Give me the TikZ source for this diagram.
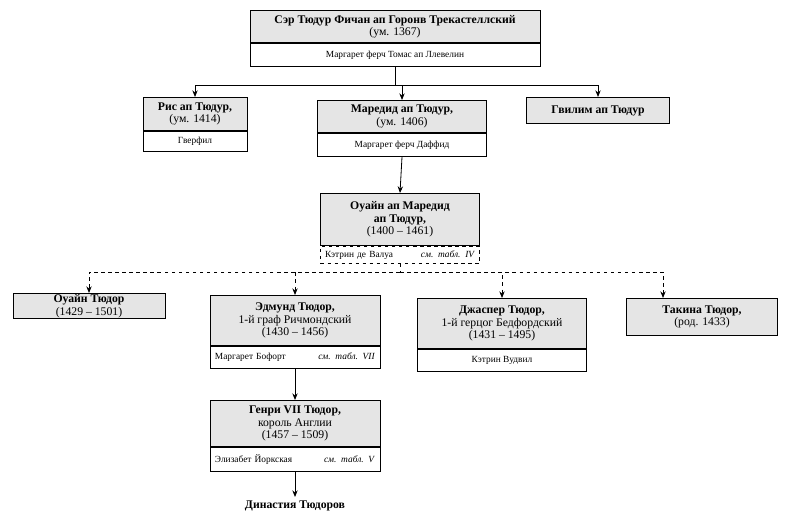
\documentclass[tikz,border=0pt]{standalone}
\usepackage{fontspec}
\setmainfont{Liberation Serif}
\usepackage{tikz}
\usetikzlibrary{arrows.meta,positioning}

\begin{document}
\begin{tikzpicture}[x=0.03cm,y=-0.03cm,
  namebox/.style={draw,line width=0.8pt,fill=black!10,inner sep=1pt,anchor=north,align=center,font=\fontsize{10}{10.5}\selectfont},
  wifebox/.style={draw,line width=0.8pt,fill=white,inner sep=1pt,below=0pt of #1,align=center,font=\fontsize{8}{9}\selectfont},
  link/.style={line width=0.7pt,-{Stealth[length=2mm,width=1.6mm]}},
  tabl/.style={}]
%
\path[use as bounding box] (0,0) rectangle (790,516);
%
\node[namebox,minimum width=8.7cm,minimum height=0.96cm] (tudur) at (395,10)
  {\textbf{Сэр Тюдур Фичан ап Горонв Трекастеллский}\\(ум. 1367)};
\node[wifebox=tudur,minimum width=8.7cm,minimum height=0.69cm] (tudurw) {Маргарет ферч Томас ап Ллевелин};
%
\node[namebox,minimum width=3.12cm,minimum height=0.99cm] (ris) at (195,97)
  {\textbf{Рис ап Тюдур,}\\(ум. 1414)};
\node[wifebox=ris,minimum width=3.12cm,minimum height=0.6cm] (risw) {Гверфил};
\node[namebox,minimum width=5.07cm,minimum height=0.96cm] (mared) at (402,100)
  {\textbf{Маредид ап Тюдур,}\\(ум. 1406)};
\node[wifebox=mared,minimum width=5.07cm,minimum height=0.69cm] (maredw) {Маргарет ферч Даффид};
\node[namebox,minimum width=4.29cm,minimum height=0.78cm] (gwilym) at (598,97)
  {\textbf{Гвилим ап Тюдур}};
%
\node[namebox,minimum width=4.77cm,minimum height=1.56cm] (owain) at (400,193)
  {\textbf{Оуайн ап Маредид}\\\textbf{ап Тюдур,}\\(1400 -- 1461)};
\node[wifebox=owain,dashed,minimum width=4.77cm,minimum height=0.51cm,text width=4.5cm] (owainw)
  {Кэтрин де Валуа\hfill\textit{см. табл. IV}};
%
\node[namebox,minimum width=4.56cm,minimum height=0.75cm] (owen) at (89,293)
  {\textbf{Оуайн Тюдор}\\(1429 -- 1501)};
\node[namebox,minimum width=5.1cm,minimum height=1.5cm] (edmund) at (295,295)
  {\textbf{Эдмунд Тюдор,}\\1-й граф Ричмондский\\(1430 -- 1456)};
\node[wifebox=edmund,minimum width=5.1cm,minimum height=0.66cm,text width=4.8cm] (edmundw)
  {Маргарет Бофорт\hfill\textit{см. табл. VII}};
\node[namebox,minimum width=5.07cm,minimum height=1.5cm] (jasper) at (502,298)
  {\textbf{Джаспер Тюдор,}\\1-й герцог Бедфордский\\(1431 -- 1495)};
\node[wifebox=jasper,minimum width=5.07cm,minimum height=0.66cm] (jasperw) {Кэтрин Вудвил};
\node[namebox,minimum width=4.53cm,minimum height=1.11cm] (takina) at (702,298)
  {\textbf{Такина Тюдор,}\\(род. 1433)};
%
\node[namebox,minimum width=5.1cm,minimum height=1.38cm] (henry) at (295,400)
  {\textbf{Генри VII Тюдор,}\\король Англии\\(1457 -- 1509)};
\node[wifebox=henry,minimum width=5.1cm,minimum height=0.72cm,text width=4.8cm] (henryw)
  {Элизабет Йоркская\hfill\textit{см. табл. V}};
\node[anchor=north,font=\fontsize{10}{12}\selectfont\bfseries] (dyn) at (295,497) {Династия Тюдоров};
%
\coordinate (j1) at (395,85);
\coordinate (j2) at (400,272);
\coordinate (takin) at (663,298);
%
\draw[line width=0.7pt] (tudurw.south) -- (j1);
\draw[link] (j1) -| (ris.north);
\draw[link] (j1) -| (mared.north);
\draw[link] (j1) -| (gwilym.north);
\draw[link] (maredw.south) -- (owain.north);
%
\draw[line width=0.7pt,dashed] (owainw.south) -- (j2);
\draw[link,dashed] (j2) -| (owen.north);
\draw[link,dashed] (j2) -| (edmund.north);
\draw[link,dashed] (j2) -| (jasper.north);
\draw[link,dashed] (j2) -| (takin);
%
\draw[link] (edmundw.south) -- (henry.north);
\draw[link] (henryw.south) -- (dyn.north);
%
\end{tikzpicture}
\end{document}
